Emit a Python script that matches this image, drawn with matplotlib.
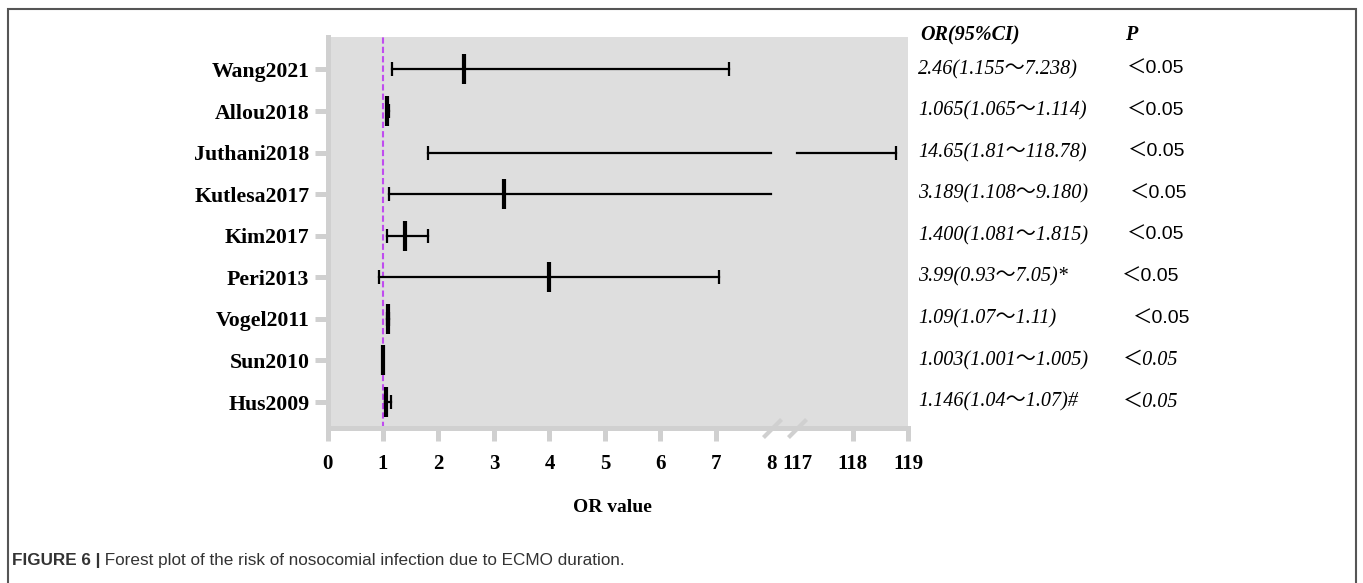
import numpy as np
import matplotlib
matplotlib.use("Agg")
import matplotlib.pyplot as plt
from matplotlib.transforms import blended_transform_factory
from matplotlib.patches import Rectangle

# studies, top to bottom
studies = ["Wang2021", "Allou2018", "Juthani2018", "Kutlesa2017", "Kim2017",
           "Peri2013", "Vogel2011", "Sun2010", "Hus2009"]
# odds ratio and 95% CI as drawn in the plot
or_est = [2.46, 1.065, 14.65, 3.189, 1.400, 3.99, 1.09, 1.003, 1.06]
ci_low = [1.155, 1.065, 1.81, 1.108, 1.081, 0.93, 1.07, 1.001, 1.04]
ci_high = [7.238, 1.114, 118.78, 9.180, 1.815, 7.05, 1.11, 1.005, 1.146]
# text column on the right
or_text = ["2.46(1.155～7.238)", "1.065(1.065～1.114)", "14.65(1.81～118.78)",
           "3.189(1.108～9.180)", "1.400(1.081～1.815)", "3.99(0.93～7.05)*",
           "1.09(1.07～1.11)", "1.003(1.001～1.005)", "1.146(1.04～1.07)#"]
p_text = ["＜0.05"] * 9
p_serif = [False, False, False, False, False, False, False, True, True]

x_ticks = [0, 1, 2, 3, 4, 5, 6, 7, 8, 117, 118, 119]

# broken x axis: 0-8 then 117-119
BRK_LO, BRK_HI, GAP = 8, 117, 0.46


def fwd(x):
    x = np.asarray(x, dtype=float)
    return np.where(x <= BRK_LO, x,
                    np.where(x >= BRK_HI, x - BRK_HI + BRK_LO + GAP,
                             BRK_LO + (x - BRK_LO) * GAP / (BRK_HI - BRK_LO)))


def inv(t):
    t = np.asarray(t, dtype=float)
    return np.where(t <= BRK_LO, t,
                    np.where(t >= BRK_LO + GAP, t - BRK_LO - GAP + BRK_HI,
                             BRK_LO + (t - BRK_LO) * (BRK_HI - BRK_LO) / GAP))


def visible(v):
    return v <= BRK_LO or v >= BRK_HI


serif = ["Liberation Serif", "Noto Sans CJK SC"]
sans = ["Liberation Sans", "Noto Sans CJK SC"]
spine_col = "#d0d0d0"

W, H = 1363, 583
fig = plt.figure(figsize=(W / 100, H / 100), dpi=100)
ax = fig.add_axes([327.5 / W, 1 - 428 / H, 580.5 / W, 391 / H])
ax.set_facecolor("#dedede")
ax.set_xscale("function", functions=(fwd, inv))
ax.set_xlim(0, 119)
n = len(studies)
ypos = np.arange(n)[::-1]
ax.set_ylim(-0.625, n - 1 + 0.78)

# reference line at OR = 1
ax.axvline(1, color="#c04cf0", lw=1.5, ls=(0, (3, 1.5)), zorder=1)

for y, e, lo, hi in zip(ypos, or_est, ci_low, ci_high):
    if hi <= BRK_LO or lo >= BRK_HI:
        ax.plot([lo, hi], [y, y], color="black", lw=1.6, zorder=3)
    else:
        ax.plot([lo, BRK_LO], [y, y], color="black", lw=1.6, zorder=3)
        if hi >= BRK_HI:
            ax.plot([BRK_HI, hi], [y, y], color="black", lw=1.6, zorder=3)
    for c in (lo, hi):
        if visible(c):
            ax.plot([c], [y], marker="|", ms=10.5, mew=1.6, color="black", zorder=3)
    if visible(e):
        ax.plot([e], [y], marker="|", ms=21, mew=3, color="black", zorder=4)

# axes look
for s in ["top", "right"]:
    ax.spines[s].set_visible(False)
for s in ["left", "bottom"]:
    ax.spines[s].set_color(spine_col)
    ax.spines[s].set_linewidth(3.6)
ax.set_yticks(ypos)
ax.set_yticklabels(studies, fontfamily=serif, fontweight="bold", fontsize=15.7)
ax.set_xticks(x_ticks)
ax.set_xticklabels([str(t) for t in x_ticks], fontfamily=serif,
                   fontweight="bold", fontsize=15)
ax.tick_params(axis="both", length=9.5, width=3.6, color=spine_col)
ax.tick_params(axis="y", pad=3.5)
ax.tick_params(axis="x", pad=9)
for t, v in zip(ax.xaxis.get_major_ticks(), x_ticks):
    if v in (BRK_LO, BRK_HI):
        t.tick1line.set_visible(False)

# break marks on the x axis
bt = blended_transform_factory(ax.transData, ax.transAxes)
ax.plot([BRK_LO + 0.3, BRK_HI - 0.2], [0, 0], transform=bt, ls="none",
        marker=[(-1, -1), (1, 1)], ms=13, mew=3, color=spine_col, clip_on=False)

fig.text(612 / W, 1 - 507 / H, "OR value", fontfamily=serif, fontweight="bold",
         fontsize=14, ha="center", va="center")

# right hand text columns
tt = blended_transform_factory(fig.transFigure, ax.transData)
fig.text(920 / W, 1 - 35 / H, "OR(95%CI)", fontfamily=serif, fontweight="bold",
         style="italic", fontsize=14.5, ha="left", va="center")
fig.text(1131 / W, 1 - 35 / H, "P", fontfamily=serif, fontweight="bold",
         style="italic", fontsize=14.5, ha="center", va="center")
p_x = [1127, 1127, 1128, 1130, 1127, 1122, 1133, 1123, 1123]
for y, txt, ptxt, ps, px in zip(ypos, or_text, p_text, p_serif, p_x):
    ax.text(918 / W, y, txt, transform=tt, fontfamily=serif, style="italic",
            fontsize=14.5, ha="left", va="center", clip_on=False)
    if ps:
        ax.text(px / W, y, ptxt, transform=tt, fontfamily=serif, style="italic",
                fontsize=14.5, ha="left", va="center", clip_on=False)
    else:
        ax.text(px / W, y, ptxt, transform=tt, fontfamily=sans,
                fontsize=14, ha="left", va="center", clip_on=False)

# frame and caption
fig.patches.append(Rectangle((7.5 / W, -0.1), (1356 - 7.5) / W, 1.1 - 8.5 / H,
                             transform=fig.transFigure, fill=False,
                             edgecolor="#555555", lw=1.5))
cap1 = fig.text(12 / W, 1 - 561 / H, "FIGURE 6 |", fontfamily="Liberation Sans",
                fontweight="bold", fontsize=12.3, color="#333333", va="center")
ax.annotate(" Forest plot of the risk of nosocomial infection due to ECMO duration.",
            xy=(1, 0.5), xycoords=cap1, va="center", ha="left",
            fontfamily="Liberation Sans", fontsize=12.3, color="#333333",
            annotation_clip=False)

fig.savefig("out.png", dpi=100)
